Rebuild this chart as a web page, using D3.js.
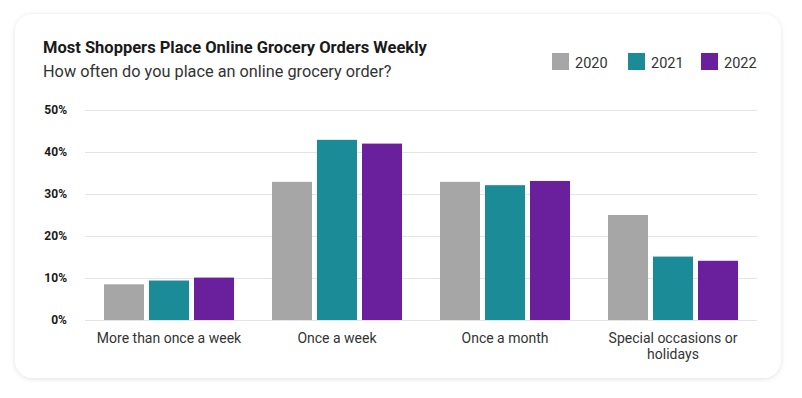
<!DOCTYPE html>
<html>
<head>
<meta charset="utf-8">
<script src="https://cdn.jsdelivr.net/npm/d3@7"></script>
<style>
  html, body { margin: 0; padding: 0; background: #ffffff; }
  svg { display: block; font-family: Roboto, "Noto Sans", sans-serif; }
</style>
</head>
<body>
<div id="chart"></div>
<script>
// categories, series and tick labels
var categories = ["More than once a week", "Once a week", "Once a month", "Special occasions or holidays"]
var years = ["2020", "2021", "2022"]
var values2020 = [8.5, 32.9, 32.9, 25.0]
var values2021 = [9.4, 42.9, 32.1, 15.1]
var values2022 = [10.1, 42.0, 33.1, 14.1]
var yTicks = [0, 10, 20, 30, 40, 50]
var colors = ["#a6a6a6", "#1b8b98", "#6a209d"]

var width = 802, height = 398

var svg = d3.select("#chart").append("svg")
  .attr("width", width)
  .attr("height", height)

// card with soft shadow
var defs = svg.append("defs")
var f = defs.append("filter").attr("id", "shadow")
  .attr("x", "-5%").attr("y", "-5%").attr("width", "110%").attr("height", "115%")
f.append("feDropShadow")
  .attr("dx", 0).attr("dy", 1).attr("stdDeviation", 2.5)
  .attr("flood-color", "#000").attr("flood-opacity", 0.12)

svg.append("rect")
  .attr("x", 15).attr("y", 14)
  .attr("width", 766).attr("height", 364)
  .attr("rx", 18)
  .attr("fill", "#fff")
  .attr("filter", "url(#shadow)")

// title
svg.append("text")
  .attr("x", 43).attr("y", 53)
  .attr("font-size", 16.5).attr("font-weight", 700)
  .attr("fill", "#1a1a1a")
  .text("Most Shoppers Place Online Grocery Orders Weekly")

svg.append("text")
  .attr("x", 43).attr("y", 77)
  .attr("font-size", 16.3)
  .attr("fill", "#333")
  .text("How often do you place an online grocery order?")

// scales
var x0 = d3.scaleBand()
  .domain(categories)
  .range([85, 757])
  .paddingInner(0.226)
  .paddingOuter(0.113)

var x1 = d3.scaleBand()
  .domain(years)
  .range([0, x0.bandwidth()])
  .paddingInner(0.111)

var y = d3.scaleLinear()
  .domain([0, 50])
  .range([320, 110])

var color = d3.scaleOrdinal().domain(years).range(colors)

// gridlines + y labels
var yAxis = svg.append("g")
  .attr("transform", "translate(85,0)")
  .call(d3.axisLeft(y).tickValues(yTicks).tickSize(-672).tickPadding(18)
    .tickFormat(function (d) { return d + "%" }))
yAxis.select(".domain").remove()
yAxis.selectAll(".tick line").attr("stroke", "#e4e4e4").attr("stroke-width", 1)
yAxis.selectAll(".tick text")
  .attr("font-size", 12).attr("font-weight", 700)
  .attr("fill", "#1a1a1a")
  .attr("font-family", "Roboto, sans-serif")

// bars
var rows = categories.map(function (c, i) {
  return { cat: c, vals: [values2020[i], values2021[i], values2022[i]] }
})

var groups = svg.selectAll(".group")
  .data(rows)
  .enter().append("g")
  .attr("class", "group")
  .attr("transform", function (d) { return "translate(" + x0(d.cat) + ",0)" })

groups.selectAll("rect")
  .data(function (d) { return years.map(function (yr, j) { return { year: yr, value: d.vals[j] } }) })
  .enter().append("rect")
  .attr("x", function (d) { return x1(d.year) })
  .attr("y", function (d) { return y(d.value) })
  .attr("width", x1.bandwidth())
  .attr("height", function (d) { return y(0) - y(d.value) })
  .attr("fill", function (d) { return color(d.year) })

// x labels (wrapped)
var xLabels = svg.selectAll(".xlabel")
  .data(categories)
  .enter().append("text")
  .attr("class", "xlabel")
  .attr("x", function (d) { return x0(d) + x0.bandwidth() / 2 })
  .attr("y", 343)
  .attr("text-anchor", "middle")
  .attr("font-size", 14)
  .attr("fill", "#333")

xLabels.each(function (d) {
  var lines = d === "Special occasions or holidays" ? ["Special occasions or", "holidays"] : [d]
  var t = d3.select(this)
  lines.forEach(function (ln, i) {
    t.append("tspan")
      .attr("x", x0(d) + x0.bandwidth() / 2)
      .attr("dy", i === 0 ? 0 : 16)
      .text(ln)
  })
})

// legend
var legendX = [552, 628, 701]
var legend = svg.selectAll(".legend")
  .data(years)
  .enter().append("g")
  .attr("class", "legend")
  .attr("transform", function (d, i) { return "translate(" + legendX[i] + ",53)" })

legend.append("rect")
  .attr("width", 17).attr("height", 17)
  .attr("fill", function (d) { return color(d) })

legend.append("text")
  .attr("x", 23).attr("y", 15)
  .attr("font-size", 14.5)
  .attr("fill", "#333")
  .text(function (d) { return d })
</script>
</body>
</html>
